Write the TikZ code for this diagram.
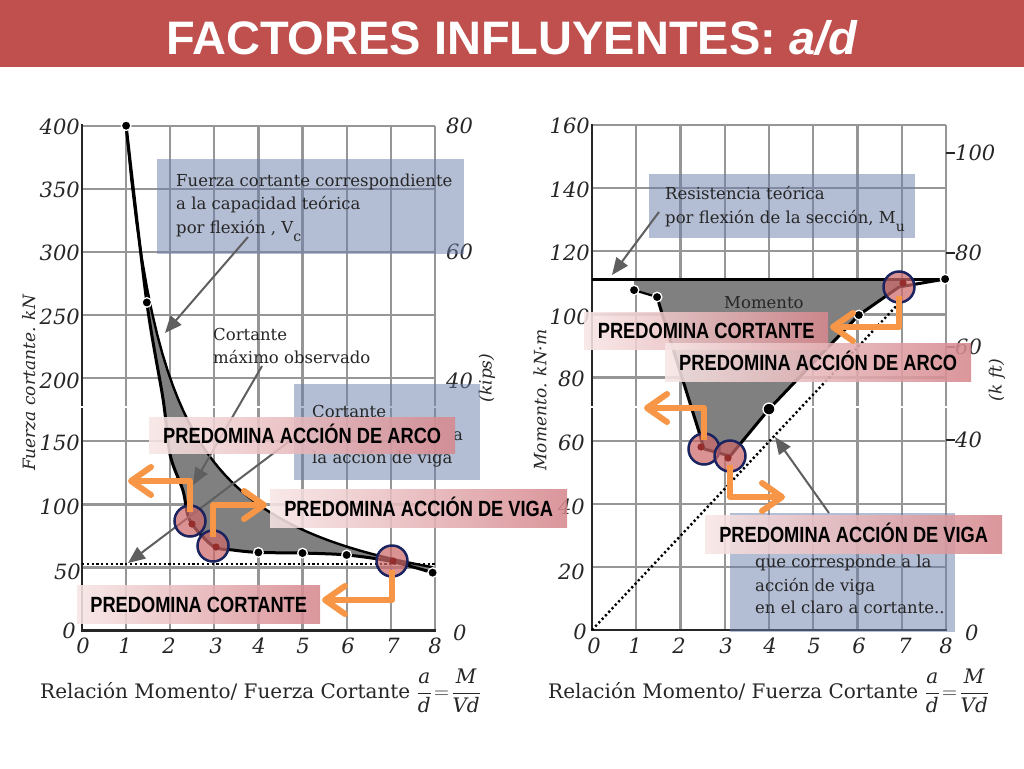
\documentclass[tikz,border=0pt]{standalone}
\usepackage{fontspec}
\setmainfont{DejaVu Serif}
\newfontfamily\lblfont{Liberation Sans Bold}[FakeStretch=0.83]
\newfontfamily\ttlfont{Liberation Sans}
\usetikzlibrary{arrows.meta}
\definecolor{titlered}{RGB}{192,80,77}
\definecolor{gridgray}{RGB}{150,150,150}
\definecolor{boxblue}{RGB}{105,125,169}
\definecolor{pinkL}{RGB}{248,230,230}
\definecolor{pinkR}{RGB}{214,136,142}
\definecolor{orangeA}{RGB}{247,150,70}
\definecolor{navy}{RGB}{28,36,96}
\definecolor{rose}{RGB}{205,105,105}
\definecolor{darkred}{RGB}{150,45,45}
\definecolor{arrowgray}{RGB}{95,95,95}
\definecolor{txtgray}{RGB}{38,38,38}
\definecolor{fillgray}{RGB}{128,128,128}
\begin{document}
\begin{tikzpicture}[x=1pt,y=-1pt,
  gridline/.style={draw=gridgray,line width=2.2pt},
  axisline/.style={draw=black!85,line width=2.6pt,line cap=rect},
  bluebox/.style={fill=boxblue,fill opacity=0.5,draw=none,inner sep=0pt,anchor=north west},
  boxtext/.style={font=\fontsize{16.5}{20}\selectfont,text=txtgray,anchor=base west,inner sep=0pt},
  numlab/.style={font=\itshape\fontsize{21}{21}\selectfont,inner sep=0pt,text=black!85},
  axtitle/.style={font=\itshape\fontsize{17}{17}\selectfont,inner sep=0pt,rotate=90,text=black!85},
  pinklabel/.style={left color=pinkL,right color=pinkR,fill opacity=0.88,text opacity=1,
     font=\lblfont\fontsize{22}{22}\selectfont,text=black,anchor=north west,inner sep=0pt,
     text height=16pt,text depth=0pt},
  orarrow/.style={draw=orangeA,line width=6pt,line join=round,
     -{Straight Barb[length=20pt,width=28pt,round]}},
  grayarrow/.style={draw=arrowgray,line width=2pt,-{Triangle[length=17pt,width=14pt]}},
  markcircle/.style={circle,minimum size=31pt,inner sep=0pt,fill=rose,fill opacity=0.72,
     draw=navy,draw opacity=1,line width=2.5pt},
  datadot/.style={fill=black,draw=white,line width=1.3pt},
  dotline/.style={draw=black,line width=2.4pt,dash pattern=on 2.2pt off 2.6pt,line cap=butt},
  curve/.style={draw=black,line width=3pt,line join=round},
  botlab/.style={font=\fontsize{20}{20}\selectfont,anchor=base west,inner sep=0pt,text=black!85}
]
\useasboundingbox (0,0) rectangle (1024,768);
\fill[white] (0,0) rectangle (1024,768);
% title bar
\fill[titlered] (0,0) rectangle (1024,67);
\node[font=\ttlfont\bfseries\fontsize{47}{47}\selectfont,text=white,anchor=base,inner sep=0pt] (title) at (512,55) {FACTORES INFLUYENTES: \textit{a/d}};

% ===== LEFT CHART =====
\begin{scope}[x=44.1pt,y=1.2625pt,shift={(82pt,-630.7pt)}]
  \foreach \i in {0,...,8} \draw[gridline] (\i,0) -- (\i,400);
  \foreach \j in {0,50,...,400} \draw[gridline] (0,\j) -- (8,\j);
  \draw[axisline] (0,400) -- (0,0) -- (8,0);
  \draw[white,line width=1.6pt] (-0.15,177.2) -- (8.1,177.2);
  \fill[fillgray] plot[domain=1:7.95,samples=60] (\x,{400/\x})
     -- plot[smooth,tension=0.5] coordinates {(7.95,46) (7,55) (6,60) (5,61.5) (4,62) (3.4,64) (2.97,67) (2.45,87) (2.29,111) (2.0,139) (1.84,183) (1.47,260) (1,400)} -- cycle;
  \draw[draw=black,line width=2.4pt] plot[domain=1:7.95,samples=60] (\x,{400/\x});
  \draw[curve] plot[smooth,tension=0.5] coordinates {(1,400) (1.47,260) (1.84,183) (2.0,139) (2.29,111) (2.45,87) (2.97,67) (3.4,64) (4,62) (5,61.5) (6,60) (7,55) (7.95,46)};
  \draw[dotline] (0,53) -- (8,53);
  \foreach \p in {(1,400),(1.47,260),(4,62),(5,61.5),(6,60),(7.95,46)}
     \filldraw[datadot] \p circle (4.8pt);
\end{scope}

% ===== RIGHT CHART =====
\begin{scope}[x=44.25pt,y=3.156pt,shift={(592pt,-630pt)}]
  \foreach \i in {0,...,8} \draw[gridline] (\i,0) -- (\i,160);
  \foreach \j in {0,20,...,160} \draw[gridline] (0,\j) -- (8,\j);
  \draw[axisline] (0,160) -- (0,0) -- (8,0);
  \draw[white,line width=1.6pt] (-0.1,70.7) -- (8.1,70.7);
  \fill[fillgray] (0.95,111.2) -- (0.95,107.7) -- (1.47,105.5) -- (1.58,100.4) -- (2.44,61.8) -- (2.53,57.4) -- (3.12,55.1) -- (4,70) -- (6.03,99.8) -- (6.94,108.7) -- (7.05,111.2) -- cycle;
  \draw[curve] (0,111.2) -- (7.98,111.2);
  \draw[draw=black,line width=2.2pt] (0.95,107.7) -- (1.47,105.5);
  \draw[curve] (1.47,105.5) -- (1.58,100.4) -- (2.44,61.8) -- (2.53,57.4) -- (3.12,55.1) -- (4,70) -- (6.03,99.8) -- (6.94,108.7) -- (7.98,111.2);
  \draw[dotline] (0,0) -- (6.94,103.6);
  \foreach \p in {(0.95,107.7),(1.47,105.5),(6.03,99.8),(7.98,111.2)}
     \filldraw[datadot] \p circle (4.8pt);
  \filldraw[datadot] (4,70) circle (6pt);
\end{scope}

% ===== axis numbers, left chart =====
\node[numlab,anchor=east] (l400) at (80,127) {400};
\node[numlab,anchor=east] (l350) at (80,190) {350};
\node[numlab,anchor=east] (l300) at (80,253) {300};
\node[numlab,anchor=east] (l250) at (80,317) {250};
\node[numlab,anchor=east] (l200) at (80,381) {200};
\node[numlab,anchor=east] (l150) at (80,443) {150};
\node[numlab,anchor=east] (l100) at (80,507) {100};
\node[numlab,anchor=east] (l50) at (81,572) {50};
\node[numlab,anchor=east] (l0) at (76,631) {0};
\node[numlab,anchor=west] (k80) at (446,126) {80};
\node[numlab,anchor=west] (k60) at (446,252) {60};
\node[numlab,anchor=west] (k40) at (446,381) {40};
\node[numlab,anchor=west] (k0) at (453,633) {0};
\foreach \xx/\t [count=\k] in {83/0,125/1,169/2,216/3,259/4,303/5,348/6,393/7,435/8}
  \node[numlab] (lx\k) at (\xx,646) {\t};
\node[axtitle] (lyt) at (29,383) {Fuerza cortante. kN};
\node[axtitle] (lkt) at (487,378) {(kips)};
\node[botlab] (lbot) at (40,698) {Relación Momento/ Fuerza Cortante $\displaystyle\frac{\textit{a}}{\textit{d}}\!=\!\frac{\textit{M}}{\textit{Vd}}$};

% ===== axis numbers, right chart =====
\node[numlab,anchor=east] (r160) at (590,126) {160};
\node[numlab,anchor=east] (r140) at (590,190) {140};
\node[numlab,anchor=east] (r120) at (590,253) {120};
\node[numlab,anchor=east] (r100) at (590,317) {100};
\node[numlab,anchor=east] (r80) at (585,379) {80};
\node[numlab,anchor=east] (r60) at (585,443) {60};
\node[numlab,anchor=east] (r40) at (585,507) {40};
\node[numlab,anchor=east] (r20) at (585,572) {20};
\node[numlab,anchor=east] (r0) at (587,632) {0};
\foreach \yy/\t [count=\k] in {153/100,253/80,347/60,440/40} {
  \draw[black!85,line width=1.6pt] (946,\yy) -- (955,\yy);
  \node[numlab,anchor=west] (rk\k) at (955,\yy) {\t};
}
\node[numlab,anchor=west] (rk0) at (965,633) {0};
\foreach \xx/\t [count=\k] in {594/0,635/1,679/2,726/3,770/4,814/5,859/6,905/7,946/8}
  \node[numlab] (rx\k) at (\xx,646) {\t};
\node[axtitle] (ryt) at (540,400) {Momento. kN·m};
\node[axtitle] (rkt) at (997,380) {(k ft)};
\node[botlab] (rbot) at (548,698) {Relación Momento/ Fuerza Cortante $\displaystyle\frac{\textit{a}}{\textit{d}}\!=\!\frac{\textit{M}}{\textit{Vd}}$};

% ===== blue boxes and annotation texts =====
\node[bluebox,minimum width=307pt,minimum height=95pt] (boxA) at (157,159) {};
\node[boxtext] (tA1) at (176,186) {Fuerza cortante correspondiente};
\node[boxtext] (tA2) at (176,209) {a la capacidad teórica};
\node[boxtext] (tA3) at (176,233) {por flexión , V\raisebox{-0.5em}{\fontsize{14}{14}\selectfont c}};

\node[bluebox,minimum width=186pt,minimum height=96pt] (boxB) at (294,384) {};
\node[boxtext] (tB1) at (312,417) {Cortante};
\node[boxtext] (tB2) at (453,440) {a};
\node[boxtext] (tB3) at (312,463) {la acción de viga};

\node[bluebox,minimum width=266pt,minimum height=64pt] (boxC) at (649,174) {};
\node[boxtext] (tC1) at (665,199) {Resistencia teórica};
\node[boxtext] (tC2) at (665,223) {por flexión de la sección, M\raisebox{-0.5em}{\fontsize{14}{14}\selectfont u}};

\node[bluebox,minimum width=225pt,minimum height=119pt] (boxD) at (730,513) {};
\node[boxtext] (tD1) at (755,567) {que corresponde a la};
\node[boxtext] (tD2) at (755,591) {acción de viga};
\node[boxtext] (tD3) at (755,613) {en el claro a cortante..};

\node[boxtext] (tE1) at (213,340) {Cortante};
\node[boxtext] (tE2) at (213,363) {máximo observado};
\node[boxtext] (tF1) at (724,308) {Momento};

% ===== gray arrows =====
\coordinate (g1s) at (248,237); \coordinate (g1e) at (165,333);
\coordinate (g2s) at (262,366); \coordinate (g2e) at (193,485);
\coordinate (g3s) at (295,437); \coordinate (g3e) at (128,563);
\coordinate (g4s) at (659,212); \coordinate (g4e) at (612,275);
\coordinate (g5s) at (829,513); \coordinate (g5e) at (775,437);
\draw[grayarrow] (g1s) -- (g1e);
\draw[grayarrow] (g2s) -- (g2e);
\draw[grayarrow] (g3s) -- (g3e);
\draw[grayarrow] (g4s) -- (g4e);
\draw[grayarrow] (g5s) -- (g5e);

% ===== marked circles =====
\node[markcircle] (c1) at (190,521) {};
\node[markcircle] (c2) at (213,546) {};
\node[markcircle] (c3) at (392,561) {};
\node[markcircle] (c4) at (704,449) {};
\node[markcircle] (c5) at (730,456) {};
\node[markcircle] (c6) at (899,287) {};
\foreach \c/\dx/\dy in {c1/2/3,c2/3/1,c3/1/0,c4/-3/-2,c5/-2/2,c6/4/-4}
  \fill[darkred] ([xshift=\dx pt,yshift=-\dy pt]\c.center) circle (3.6pt);

% ===== pink labels =====
\node[pinklabel,minimum width=306pt,minimum height=36pt] (L1) at (149,417) {PREDOMINA ACCIÓN DE ARCO};
\node[pinklabel,minimum width=297pt,minimum height=38pt] (L2) at (270,489) {PREDOMINA ACCIÓN DE VIGA};
\node[pinklabel,minimum width=243pt,minimum height=38pt] (L3) at (77,585) {PREDOMINA CORTANTE};
\node[pinklabel,minimum width=244pt,minimum height=37pt] (R1) at (584,312) {PREDOMINA CORTANTE};
\node[pinklabel,minimum width=306pt,minimum height=38pt] (R2) at (665,343) {PREDOMINA ACCIÓN DE ARCO};
\node[pinklabel,minimum width=297pt,minimum height=38pt] (R3) at (705,515) {PREDOMINA ACCIÓN DE VIGA};

% ===== orange arrows =====
\coordinate (o1) at (128,481);
\coordinate (o2) at (267,505);
\coordinate (o3) at (322,600);
\coordinate (o4) at (830,327);
\coordinate (o5) at (644,408);
\coordinate (o6) at (785,497);
\draw[orarrow] ([yshift=-8pt]c1.north) |- (o1);
\draw[orarrow] ([yshift=-8pt]c2.north) |- (o2);
\draw[orarrow] ([yshift=8pt]c3.south) |- (o3);
\draw[orarrow] ([yshift=8pt]c6.south) |- (o4);
\draw[orarrow] ([yshift=-8pt]c4.north) |- (o5);
\draw[orarrow] ([yshift=8pt]c5.south) |- (o6);
\end{tikzpicture}
\end{document}
